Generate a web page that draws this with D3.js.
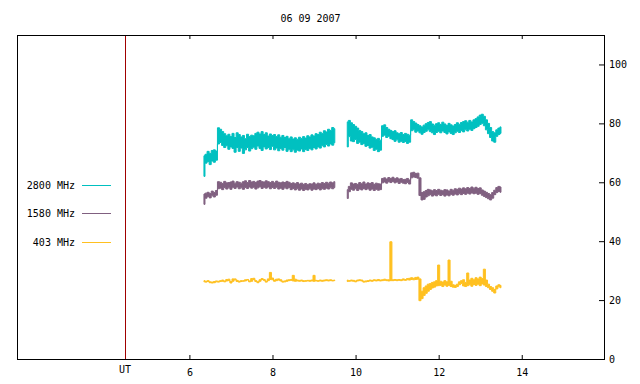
<!DOCTYPE html>
<head>
  <meta charset='utf-8'>
  <style>
    body { margin: 0; background: #fff; }
    svg text { font-family: 'DejaVu Sans Mono', monospace; font-size: 10px; fill: #000; }
    .frame { fill: none; stroke: #000; stroke-width: 1px; }
    .axis path.domain { display: none; }
    .axis .tick line { stroke: #000; }
  </style>
</head>
<body>
<script src='https://d3js.org/d3.v7.min.js'></script>
<script>
var
    W = 640,
    H = 384,
    box = {left: 17, right: 604, top: 35, bottom: 359};

// time axis (UT hours) and labels
var title = '06 09 2007',
    xTicks = [6, 8, 10, 12, 14],
    yTicks = [0, 20, 40, 60, 80, 100],
    utHour = 4.45,
    names = ['2800 MHz', '1580 MHz', '403 MHz'],
    colors = ['#00c0c0', '#806080', '#ffc020'],
    utColor = '#a00000';

// sample times, before and after the gap
var hours1 = [6.35,6.40,6.45,6.50,6.55,6.60,6.65,6.70,6.75,6.80,6.85,6.90,6.95,7.00,7.05,7.10,7.15,7.20,7.25,7.30,
    7.35,7.40,7.45,7.50,7.55,7.60,7.65,7.70,7.75,7.80,7.85,7.90,7.95,8.00,8.05,8.10,8.15,8.20,8.25,8.30,
    8.35,8.40,8.45,8.50,8.55,8.60,8.65,8.70,8.75,8.80,8.85,8.90,8.95,9.00,9.05,9.10,9.15,9.20,9.25,9.30,
    9.35,9.40,9.45,9.50];
var hours2 = [9.80,9.85,9.90,9.95,10.00,10.05,10.10,10.15,10.20,10.25,10.30,10.35,10.40,10.45,10.50,10.55,10.60,10.65,10.70,10.75,
    10.80,10.85,10.90,10.95,11.00,11.05,11.10,11.15,11.20,11.25,11.30,11.35,11.40,11.45,11.50,11.55,11.60,11.65,11.70,11.75,
    11.80,11.85,11.90,11.95,12.00,12.05,12.10,12.15,12.20,12.25,12.30,12.35,12.40,12.45,12.50,12.55,12.60,12.65,12.70,12.75,
    12.80,12.85,12.90,12.95,13.00,13.05,13.10,13.15,13.20,13.25,13.30,13.35,13.40,13.45,13.50];

// 2800 MHz: min / max of the flux in each sample
var lo2800a = [62,66.5,67,66,67.2,66.8,67.5,
    73,73.5,72.5,71.8,72.4,71.2,72,71.5,70.2,71.8,
    70.5,71.6,69.8,71,71.8,70.6,71.4,71.9,71.2,72.3,
    71.5,70.8,72,71.3,71.8,71.1,72.2,71,71.6,70.7,
    71.5,70.9,71.8,70.5,71.2,70.4,71,70.2,70.9,70.6,
    71.3,70.4,71.1,70.8,71.5,71,71.8,71.3,72,71.6,
    72.4,72,72.8,72.3,73,72.6,73.4];
var hi2800a = [69,69.5,70.5,69.8,70.8,71,70.6,
    78.5,78,77.2,76.5,75.8,76.3,75.5,76.6,75.2,76.8,
    76.2,75.4,75.9,74.8,76.3,75.5,76,75.8,76.6,77,
    76.4,77.2,76.2,76.8,75.7,76.4,75.9,76.2,75.5,76.1,
    75.3,75.9,75.2,75.6,74.8,75.4,74.7,75.1,74.6,75.3,
    74.9,75.5,75,75.8,75.4,76.1,75.7,76.5,76.2,77,
    76.6,77.5,77.1,78,77.6,78.6,78.2];
var lo2800b = [72,75.5,74,73.8,74.5,73.2,73.6,72.8,73.1,72.2,
    72.5,71.6,71.9,70.8,71.2,70.4,70.9,
    75.6,76,75.2,75.6,74.8,74.5,73.9,74.4,73.6,73.9,73.5,73.8,73.2,73.6,
    77.5,77.8,77,77.4,76.8,76.3,76.9,77.3,77.8,77.2,
    76.8,76.2,76.9,77.3,76.8,77.4,76.9,76.4,77.1,76.6,
    76.2,76.8,77.3,76.9,77.5,77.1,77.8,77.4,78,77.6,
    78.2,78.6,79,79.6,80,79.2,77.8,76.5,75.2,74,
    73.6,75.6,76.2,76.6];
var hi2800b = [80.5,81,80.2,79.6,79,78.4,77.6,77.2,76.5,76.8,
    75.9,76.2,75.4,75.1,74.6,74.9,74.3,
    79.2,79.5,78.6,78,77.6,77.2,77.5,76.8,76.5,76.9,76.2,76.6,76.3,76,
    81.2,80.6,80.1,79.6,79.2,78.8,79.4,79.9,80.3,80.6,
    79.8,79.4,79.9,80.2,79.6,80.4,79.8,79.3,80,79.5,
    79.1,79.6,80.2,79.7,80.3,80.6,80.9,80.4,81,80.5,
    81.2,81.6,82.2,82.8,83.1,82.4,81.2,80,78.6,77.2,
    76.8,77.8,78.4,78.8];

// 1580 MHz
var lo1580a = [52.5,54.6,55.2,54.7,55.4,55,55.6,
    57.8,58,57.5,58.2,57.7,58.1,57.6,58.3,57.9,58.4,
    57.8,58.1,57.6,58.2,57.9,58.4,58,58.3,57.7,58.1,
    58.5,57.9,58.3,58,58.4,57.8,58.2,57.9,58.3,57.7,
    58,57.6,58.1,57.8,58.2,57.5,57.9,57.4,57.8,57.3,
    57.7,57.2,57.6,57.4,57.8,57.3,57.7,57.5,57.9,57.4,
    57.8,57.6,58,57.7,58.1,57.8,58.2];
var hi1580a = [56,56.3,56.6,56.2,57,56.5,57.2,
    60.2,60,59.6,60.3,59.8,59.9,60.1,60.4,59.7,60.2,
    60,59.7,60.2,60.5,59.9,60.6,60.1,60.3,59.9,60.4,
    60.6,60.2,60.1,60.5,60.2,59.9,60.3,59.8,60.4,60,
    59.8,60.1,59.9,60.3,60,59.6,59.8,59.5,59.9,59.4,
    59.7,59.3,59.6,59.2,59.5,59.4,59.8,59.3,59.7,59.5,
    59.9,59.6,60,59.7,60.1,59.8,60.2];
var lo1580b = [54.5,56.8,57.6,57.3,57.8,57.2,57.7,57.4,57.9,57.5,
    57.8,57.3,57.7,57.2,57.6,57.3,57.5,
    59.8,60.1,59.7,60.2,59.9,60.3,59.8,60.1,59.6,60,59.7,59.5,59.9,59.4,
    61.5,61.8,61.6,61.4,
    55.5,54,54.2,55,55.4,55.8,
    55.3,55.7,55.4,55.9,55.5,55.8,55.3,55.7,55.4,55.9,
    55.6,56,55.7,56.1,55.8,56.2,55.9,56.3,56,56.4,
    56.1,56.3,55.9,56.2,55.6,55.2,54.8,54.4,54,54.6,
    55.8,56.5,56.9,56.6];
var hi1580b = [57.5,58.6,59.8,59.4,59.6,59.3,59.9,59.5,60.1,59.4,
    59.8,59.6,59.9,59.3,59.7,59.5,59.4,
    61.3,61.5,61.1,61.6,61.3,61.7,61.2,61.5,61.1,61.3,60.9,61,61.3,60.8,
    63.2,63.4,63,63.1,
    61.5,56.5,56.8,57.2,57.6,57.4,
    57.1,57.5,57.2,57.6,57.3,57.1,57.5,57.4,57,57.6,
    57.3,57.8,57.6,58,57.7,58.1,57.8,58.2,57.9,58.4,
    58,58.3,57.9,58.1,57.4,57,56.6,56.2,55.8,56.5,
    57.3,58.2,58.6,58.4];

// 403 MHz
var lo403a = [26.2,26.1,26.3,25.9,25.8,25.9,26.2,26.1,26.3,26.4,
    26.2,26.5,26.6,25.8,26.4,26.9,26.3,26.1,26.3,26.4,
    26.5,26.8,26.2,26.4,27,26.3,25.9,26.4,27,26.7,
    26.1,26.6,27,26.9,26.4,26.6,26.8,26.5,26.1,26.2,
    26.4,26.6,26.7,26.5,26.4,26.5,26.4,26.5,26.3,26.4,
    26.5,26.4,26.5,26.4,26.5,26.4,26.5,26.4,26.5,26.6,
    26.5,26.6,26.5,26.6];
var hi403a = [26.6,26.4,26.6,26.2,26.1,26.3,26.5,26.4,26.6,26.8,
    26.5,27,27.1,26.3,27.2,27.2,26.7,26.4,26.6,26.6,
    26.9,27,26.5,27.3,27.4,26.6,26.2,26.9,27.3,27,
    26.4,27.2,29.4,27.5,26.8,27.1,27.2,26.9,26.4,26.5,
    26.8,26.9,27,28.4,27.1,26.8,26.7,26.8,26.6,26.6,
    26.7,26.7,26.8,28.4,26.7,26.6,26.8,26.7,26.8,26.9,
    26.8,26.9,26.7,26.8];
var lo403b = [26.3,26.4,26.5,26.4,26.2,26.5,26.6,26.5,26.1,26.2,
    26.3,26.5,26.4,26.6,26.5,26.6,26.5,26.6,26.7,26.6,
    26.5,26.6,26.6,26.7,26.6,26.7,26.6,26.8,26.7,26.9,
    26.8,27,26.9,27,27.1,
    19.8,20.5,21.6,22.3,23,23.6,24.1,24.4,24.8,
    24.9,25,24.6,25.1,24.7,25,24.6,24.4,24.3,24.6,
    25.2,25.6,24.8,24.6,24.9,25.2,24.7,25.3,25,25.4,
    24.9,25.5,25.1,24.6,24.2,23.6,23,22.4,23.8,24.5,
    24.2];
var hi403b = [26.8,26.6,26.8,26.7,26.5,26.8,26.9,26.8,26.4,26.5,
    26.6,26.8,26.7,26.9,26.8,27,26.8,26.9,27.1,26.9,
    26.9,39.8,26.9,27,26.9,27,26.9,27.2,27,27.3,
    27.4,27.6,27.4,27.7,27.8,
    27.2,23,24.2,24.8,25.4,25.6,26,26.2,26.6,
    31.9,26.4,26.1,26.6,26.2,33.6,26.4,25.2,25,25.4,
    26.2,26.6,26.9,26,29.2,26.8,27.4,26.9,27.6,27.2,
    27.8,27.3,30.5,26.8,25.4,24.6,24.2,23.6,24.8,25.2,
    25];

var series = [
    {lo: [lo2800a, lo2800b], hi: [hi2800a, hi2800b]},
    {lo: [lo1580a, lo1580b], hi: [hi1580a, hi1580b]},
    {lo: [lo403a, lo403b], hi: [hi403a, hi403b]}
];

var
    x = d3.scaleLinear()
        .domain([1.85, 15.98])
        .range([box.left, box.right]),
    y = d3.scaleLinear()
        .domain([0, 110])
        .range([box.bottom, box.top]),
    band = d3.area()
        .x(function(d) { return x(d[0]); })
        .y0(function(d) { return y(d[1]); })
        .y1(function(d) { return y(d[2]); })
        .curve(d3.curveStep);

var svg = d3.select('body')
    .append('svg')
        .attr('width', W)
        .attr('height', H);

svg.append('text')
    .attr('x', (box.left + box.right) / 2)
    .attr('y', 22)
    .attr('text-anchor', 'middle')
    .text(title);

// series bands, one path per segment so the gap stays open
series.forEach(function(s, k) {
    [hours1, hours2].forEach(function(hrs, j) {
        svg.append('path')
            .datum(d3.zip(hrs, s.lo[j], s.hi[j]))
            .attr('fill', colors[k])
            .attr('stroke', colors[k])
            .attr('stroke-width', 1)
            .attr('d', band);
    });
});

var utX = Math.round(x(utHour)) + 0.5;
svg.append('line')
    .attr('x1', utX)
    .attr('x2', utX)
    .attr('y1', box.top)
    .attr('y2', box.bottom)
    .attr('stroke', utColor)
    .attr('stroke-width', 1);

svg.append('rect')
    .attr('class', 'frame')
    .attr('x', box.left + 0.5)
    .attr('y', box.top + 0.5)
    .attr('width', box.right - box.left)
    .attr('height', box.bottom - box.top);

svg.append('g')
    .attr('class', 'axis')
    .attr('transform', 'translate(0,' + box.bottom + ')')
    .call(d3.axisBottom(x).tickValues(xTicks).tickSize(-4).tickPadding(10).tickFormat(d3.format('d')));

svg.append('g')
    .attr('class', 'axis')
    .attr('transform', 'translate(0,' + box.top + ')')
    .call(d3.axisTop(x).tickValues(xTicks).tickSize(-4).tickFormat(''));

svg.append('g')
    .attr('class', 'axis')
    .attr('transform', 'translate(' + box.right + ',0)')
    .call(d3.axisRight(y).tickValues(yTicks).tickSize(-5).tickPadding(5));

svg.selectAll('.axis text')
    .style('font-family', "'DejaVu Sans Mono', monospace")
    .style('font-size', '10px');

svg.append('text')
    .attr('x', x(utHour))
    .attr('y', 373)
    .attr('text-anchor', 'middle')
    .text('UT');

// legend on the left
var legendY = [185, 213, 242];
var legend = svg.selectAll('.legend')
    .data(names.map(function(n, i) { return {name: n, color: colors[i], y: legendY[i]}; }))
    .enter().append('g')
    .attr('class', 'legend')
    .attr('transform', function(d) { return 'translate(0,' + d.y + ')'; });

legend.append('text')
    .attr('x', 75)
    .attr('y', 4)
    .attr('text-anchor', 'end')
    .text(function(d) { return d.name; });

legend.append('line')
    .attr('x1', 82)
    .attr('x2', 111)
    .attr('y1', 0.5)
    .attr('y2', 0.5)
    .attr('stroke', function(d) { return d.color; })
    .attr('stroke-width', 1);
</script>
</body>
